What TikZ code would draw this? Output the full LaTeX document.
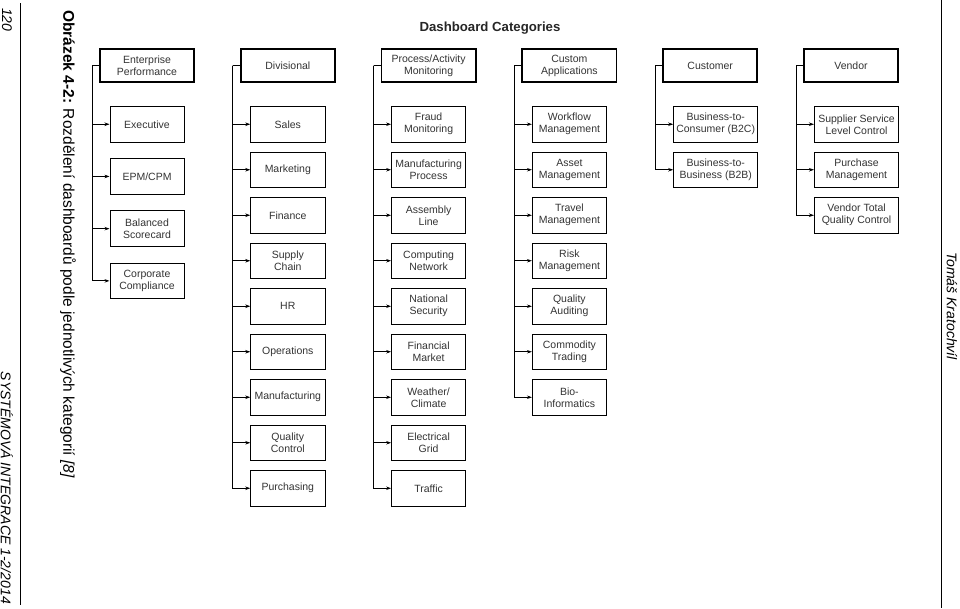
\documentclass[tikz,border=0pt]{standalone}
\usepackage{fontspec}
\setmainfont{Liberation Sans}
\usetikzlibrary{positioning,arrows.meta}

\begin{document}
\begin{tikzpicture}[x=1pt,y=1pt,
  catbox/.style={draw, line width=1.8pt, minimum width=94.2pt, minimum height=33.2pt,
    align=center, inner sep=2pt, text=black!80, font=\fontsize{10.5}{12}\selectfont},
  itembox/.style={draw, line width=0.8pt, minimum width=74.2pt, minimum height=35.7pt,
    align=center, inner sep=2pt, text=black!80, font=\fontsize{10.5}{12}\selectfont},
  widebox/.style={itembox, minimum width=84.2pt},
  branch/.style={line width=0.8pt, -{Stealth[length=5pt,width=3.5pt]}, to path={|- (\tikztotarget)}},
  stem/.style={line width=0.8pt},
  sidetext/.style={rotate=-90, inner sep=0pt, font=\fontsize{14}{16}\selectfont\itshape}]
  \useasboundingbox (0,0) rectangle (960,-608);

  \draw[line width=0.9pt] (20,-3) -- (20,-605);
  \draw[line width=0.9pt] (941.5,0) -- (941.5,-608);
  \node[sidetext, anchor=west] (pagenum) at (7,-8) {120};
  \node[sidetext, anchor=east] (journal) at (7,-604) {SYSTÉMOVÁ INTEGRACE 1-2/2014};
  \node[sidetext, anchor=west] (author) at (952,-252) {Tomáš Kratochvíl};
  \node[rotate=-90, anchor=west, inner sep=0pt, font=\fontsize{15.5}{18}\selectfont] (caption) at (68,-10)
    {\textbf{Obrázek 4-2:} Rozdělení dashboardů podle jednotlivých kategorií \textit{[8]}};

  \node[font=\bfseries\fontsize{13.2}{15}\selectfont, text=black!85] (title) at (490,-28.5) {Dashboard Categories};

  \node[catbox] (enterprise) at (147,-65.5) {Enterprise\\Performance};
  \node[catbox, right=44.8pt of enterprise] (divisional) {Divisional};
  \node[catbox, right=44.8pt of divisional] (process) {Process/Activity\\Monitoring};
  \node[catbox, right=44.8pt of process] (custom) {Custom\\Applications};
  \node[catbox, right=44.8pt of custom] (customer) {Customer};
  \node[catbox, right=44.8pt of customer] (vendor) {Vendor};

  \node[itembox, below=23pt of enterprise] (executive) {Executive};
  \node[itembox, below=15.7pt of executive] (epm) {EPM/CPM};
  \node[itembox, below=15.7pt of epm] (scorecard) {Balanced\\Scorecard};
  \node[itembox, below=15.7pt of scorecard] (compliance) {Corporate\\Compliance};

  \node[itembox, below=23pt of divisional] (sales) {Sales};
  \node[itembox, below=9pt of sales] (marketing) {Marketing};
  \node[itembox, below=9pt of marketing] (finance) {Finance};
  \node[itembox, below=9pt of finance] (supply) {Supply\\Chain};
  \node[itembox, below=9pt of supply] (hr) {HR};
  \node[itembox, below=9pt of hr] (operations) {Operations};
  \node[itembox, below=9pt of operations] (manufacturing) {Manufacturing};
  \node[itembox, below=9pt of manufacturing] (quality) {Quality\\Control};
  \node[itembox, below=9pt of quality] (purchasing) {Purchasing};

  \node[itembox, below=23pt of process] (fraud) {Fraud\\Monitoring};
  \node[itembox, below=9pt of fraud] (mfgprocess) {Manufacturing\\Process};
  \node[itembox, below=9pt of mfgprocess] (assembly) {Assembly\\Line};
  \node[itembox, below=9pt of assembly] (computing) {Computing\\Network};
  \node[itembox, below=9pt of computing] (security) {National\\Security};
  \node[itembox, below=9pt of security] (financial) {Financial\\Market};
  \node[itembox, below=9pt of financial] (weather) {Weather/\\Climate};
  \node[itembox, below=9pt of weather] (grid) {Electrical\\Grid};
  \node[itembox, below=9pt of grid] (traffic) {Traffic};

  \node[itembox, below=23pt of custom] (workflow) {Workflow\\Management};
  \node[itembox, below=9pt of workflow] (asset) {Asset\\Management};
  \node[itembox, below=9pt of asset] (travel) {Travel\\Management};
  \node[itembox, below=9pt of travel] (risk) {Risk\\Management};
  \node[itembox, below=9pt of risk] (auditing) {Quality\\Auditing};
  \node[itembox, below=9pt of auditing] (commodity) {Commodity\\Trading};
  \node[itembox, below=9pt of commodity] (bio) {Bio-\\Informatics};

  \node[widebox, below left=23pt and 0pt of customer.south east] (b2c) {Business-to-\\Consumer (B2C)};
  \node[widebox, below=9pt of b2c] (b2b) {Business-to-\\Business (B2B)};

  \node[widebox, below left=23pt and 0pt of vendor.south east] (supplier) {Supplier Service\\Level Control};
  \node[widebox, below=9pt of supplier] (purchase) {Purchase\\Management};
  \node[widebox, below=9pt of purchase] (vendortotal) {Vendor Total\\Quality Control};

  \coordinate (enterprise_stem) at ([xshift=-7pt]enterprise.west);
  \coordinate (divisional_stem) at ([xshift=-7pt]divisional.west);
  \coordinate (process_stem) at ([xshift=-7pt]process.west);
  \coordinate (custom_stem) at ([xshift=-7pt]custom.west);
  \coordinate (customer_stem) at ([xshift=-7pt]customer.west);
  \coordinate (vendor_stem) at ([xshift=-7pt]vendor.west);

  \draw[stem] (enterprise.west) -- (enterprise_stem);
  \draw[stem] (divisional.west) -- (divisional_stem);
  \draw[stem] (process.west) -- (process_stem);
  \draw[stem] (custom.west) -- (custom_stem);
  \draw[stem] (customer.west) -- (customer_stem);
  \draw[stem] (vendor.west) -- (vendor_stem);

  \draw (enterprise_stem) edge[branch] (executive.west) edge[branch] (epm.west)
    edge[branch] (scorecard.west) edge[branch] (compliance.west);
  \draw (divisional_stem) edge[branch] (sales.west) edge[branch] (marketing.west)
    edge[branch] (finance.west) edge[branch] (supply.west) edge[branch] (hr.west)
    edge[branch] (operations.west) edge[branch] (manufacturing.west)
    edge[branch] (quality.west) edge[branch] (purchasing.west);
  \draw (process_stem) edge[branch] (fraud.west) edge[branch] (mfgprocess.west)
    edge[branch] (assembly.west) edge[branch] (computing.west) edge[branch] (security.west)
    edge[branch] (financial.west) edge[branch] (weather.west)
    edge[branch] (grid.west) edge[branch] (traffic.west);
  \draw (custom_stem) edge[branch] (workflow.west) edge[branch] (asset.west)
    edge[branch] (travel.west) edge[branch] (risk.west) edge[branch] (auditing.west)
    edge[branch] (commodity.west) edge[branch] (bio.west);
  \draw (customer_stem) edge[branch] (b2c.west) edge[branch] (b2b.west);
  \draw (vendor_stem) edge[branch] (supplier.west) edge[branch] (purchase.west)
    edge[branch] (vendortotal.west);
\end{tikzpicture}
\end{document}
